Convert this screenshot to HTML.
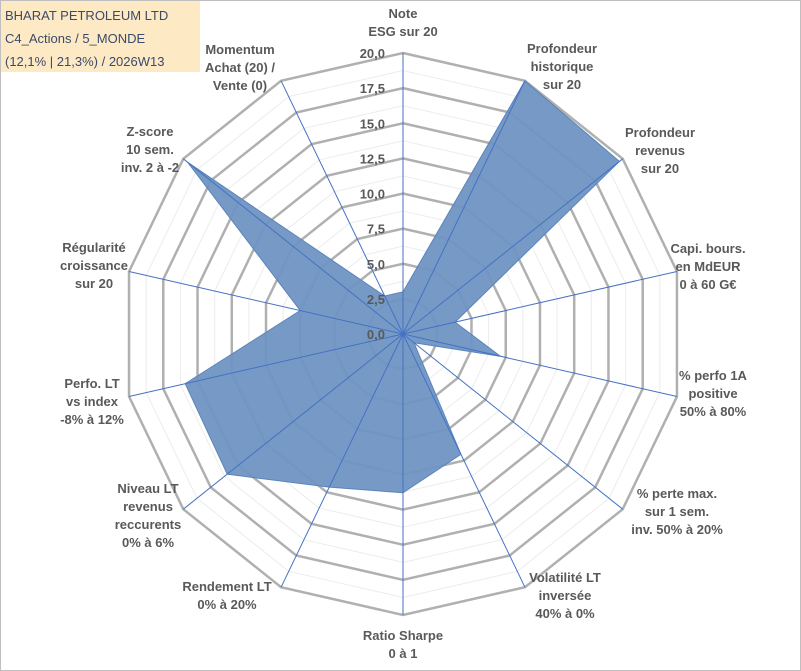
<!DOCTYPE html>
<html><head><meta charset="utf-8"><style>
body{margin:0;background:#fff}
#c{position:relative;width:801px;height:671px;overflow:hidden;font-family:"Liberation Sans",sans-serif}
svg text{font-family:"Liberation Sans",sans-serif;font-weight:bold;font-size:13px;fill:#595959}
</style></head><body>
<div id="c">
<svg id="s" width="801" height="671">
<rect x="0.5" y="0.5" width="800" height="670" fill="#fff" stroke="#bfbfbf"/>
<g id="grid"></g><g id="ser"></g><g id="axes"></g><g id="ticks"></g>
<rect x="1" y="1" width="199" height="71" fill="#fde9c4"/>
<text x="5" y="20" style="font-weight:normal;font-size:13px;fill:#3b4a6b">BHARAT PETROLEUM LTD</text>
<text x="5" y="43" style="font-weight:normal;font-size:13px;fill:#3b4a6b">C4_Actions / 5_MONDE</text>
<text x="5" y="66" style="font-weight:normal;font-size:13px;fill:#3b4a6b">(12,1% | 21,3%) / 2026W13</text>
<g id="labs"></g>
</svg></div>
<script>
const categories=[["Note","ESG sur 20"],["Profondeur","historique","sur 20"],["Profondeur","revenus","sur 20"],["Capi. bours.","en MdEUR","0 à 60 G€"],["% perfo 1A","positive","50% à 80%"],["% perte max.","sur 1 sem.","inv. 50% à 20%"],["Volatilité LT","inversée","40% à 0%"],["Ratio Sharpe","0 à 1"],["Rendement LT","0% à 20%"],["Niveau LT","revenus","reccurents","0% à 6%"],["Perfo. LT","vs index","-8% à 12%"],["Régularité","croissance","sur 20"],["Z-score","10 sem.","inv. 2 à -2"],["Momentum","Achat (20) /","Vente (0)"]];
const values=[3.0,20,19.7,3.8,7.1,1.0,9.5,11.3,12.1,16,15.9,7.5,19.6,3.0];
const ticks=["0,0","2,5","5,0","7,5","10,0","12,5","15,0","17,5","20,0"];
const labelPos=[[403,18],[562,53],[660,137],[708,253],[713,380],[677,498],[565,582],[403,640],[227,591],[148,493],[92,388],[94,252],[150,136],[240,54]];
const cx=403,cy=334,R=281,MAX=20,N=categories.length;
const ns="http://www.w3.org/2000/svg";
function r(v){return v/MAX*R}
function pt(i,v){const a=i*2*Math.PI/N;return [cx+r(v)*Math.sin(a),cy-r(v)*Math.cos(a)]}
function mk(t,at,p){const e=document.createElementNS(ns,t);for(const k in at)e.setAttribute(k,at[k]);p.appendChild(e);return e}
const grid=document.getElementById('grid');
for(let k=1;k<=16;k++){const v=k*1.25;const ps=[];for(let i=0;i<N;i++)ps.push(pt(i,v).join(','));
const el=mk('polygon',{points:ps.join(' '),fill:'none',stroke:k%2?'#ececec':'#b0b0b0','stroke-width':k%2?1:2.5},grid);

}
const ser=document.getElementById('ser');
const sp=values.map((v,i)=>pt(i,v).join(',')).join(' ');
const poly=mk('polygon',{points:sp,fill:'#6f95c2',stroke:'#5b84bb','stroke-width':1,'fill-opacity':0.95},ser);


const axes=document.getElementById('axes');
for(let i=0;i<N;i++){const p=pt(i,MAX);const l=mk('line',{x1:cx,y1:cy,x2:p[0],y2:p[1],stroke:'#4472c4','stroke-width':1},axes);

}
const tk=document.getElementById('ticks');
ticks.forEach((t,k)=>{const e=mk('text',{x:385,y:cy-r(k*2.5)+5,'text-anchor':'end'},tk);e.textContent=t;

});
const labs=document.getElementById('labs');
categories.forEach((c,i)=>{const [x,y]=labelPos[i];const t=mk('text',{x:x,y:y,'text-anchor':'middle'},labs);


c.forEach((ln,j)=>{const s=mk('tspan',{x:x,dy:j?18:0},t);s.textContent=ln;});});
</script></body></html>
